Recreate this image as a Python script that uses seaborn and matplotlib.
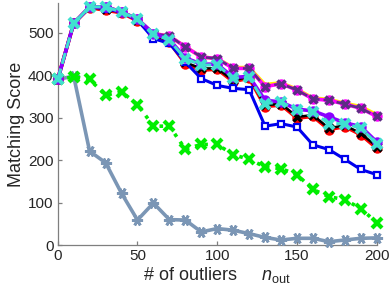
import numpy as np
import pandas as pd
import matplotlib
matplotlib.use("Agg")
import matplotlib.pyplot as plt
import seaborn as sns

n_out = list(range(0, 201, 10))

score_magenta = [390, 522, 561, 561, 549, 532, 498, 492, 467, 443, 439, 416, 416, 373, 380, 365, 344, 341, 332, 322, 303]
score_indigo = [390, 522, 561, 561, 549, 532, 498, 492, 467, 443, 439, 416, 416, 373, 380, 365, 344, 341, 332, 322, 303]
score_yellow = [390, 522, 561, 561, 549, 532, 498, 492, 467, 443, 439, 418, 418, 378, 382, 367, 346, 343, 334, 326, 307]
score_cyan = [390, 522, 561, 561, 549, 532, 498, 482, 439, 424, 424, 393, 395, 333, 337, 318, 314, 286, 286, 275, 239]
score_violet = [390, 522, 561, 561, 549, 532, 498, 484, 441, 426, 426, 395, 397, 341, 337, 320, 316, 302, 288, 279, 243]
score_black = [390, 522, 561, 557, 549, 530, 496, 480, 430, 416, 416, 388, 396, 329, 333, 302, 306, 275, 282, 263, 232]
score_red = [390, 522, 559, 553, 547, 528, 494, 478, 427, 412, 414, 385, 393, 326, 330, 299, 303, 272, 279, 260, 228]
score_blue = [390, 522, 560, 557, 548, 530, 486, 475, 431, 392, 376, 369, 366, 280, 286, 278, 236, 225, 202, 178, 166]
score_green = [390, 396, 390, 353, 361, 331, 280, 280, 226, 237, 237, 213, 202, 184, 180, 166, 131, 114, 107, 86, 53]
score_gray = [390, 398, 221, 194, 122, 59, 99, 60, 59, 31, 39, 35, 27, 18, 12, 16, 16, 8, 12, 16, 17]

sns.set_theme(style="white")
plt.rcParams['font.family'] = ['Liberation Sans', 'DejaVu Sans']
plt.rcParams['mathtext.fontset'] = 'custom'
plt.rcParams['mathtext.rm'] = 'Liberation Sans'
plt.rcParams['mathtext.it'] = 'Liberation Sans:italic'

fig = plt.figure(figsize=(3.9, 3.0), dpi=100)
ax = fig.add_axes([0.148, 0.183, 0.818, 0.807])

# drawing order: bottom first
series = [
    (score_gray, dict(color='#7b96b5', marker=(6, 2, 90), markersize=8, markeredgewidth=2, linewidth=2.6, linestyle='-')),
    (score_green, dict(color='#00ee00', marker='x', markersize=6.5, markeredgewidth=3, linewidth=2.6, linestyle=':')),
    (score_yellow, dict(color='#ffee00', marker='None', linewidth=2.6, linestyle='-')),
    (score_magenta, dict(color='#ff00ff', marker='o', markersize=7.5, markeredgewidth=0, linewidth=2.6, linestyle='-')),
    (score_indigo, dict(color='#5c2d84', marker='x', markersize=5.5, markeredgewidth=2.5, linewidth=1.8, linestyle='--')),
    (score_red, dict(color='#ff0000', marker='o', markersize=7.5, markeredgewidth=0, linewidth=2.6, linestyle='-')),
    (score_black, dict(color='#000000', marker='x', markersize=5.5, markeredgewidth=2.5, linewidth=1.8, linestyle='-')),
    (score_blue, dict(color='#0000ee', marker='s', markersize=5, markeredgewidth=1.6, markerfacecolor='white', linewidth=2.2, linestyle='-')),
    (score_violet, dict(color='#8a00ff', marker='o', markersize=7.5, markeredgewidth=0, linewidth=2.6, linestyle='-')),
    (score_cyan, dict(color='#40e0d0', marker='x', markersize=7, markeredgewidth=3, linewidth=2.2, linestyle='--')),
]

for i, (vals, st) in enumerate(series):
    df = pd.DataFrame({'n': n_out, 'score': vals})
    sns.lineplot(data=df, x='n', y='score', ax=ax)
    line = ax.lines[-1]
    line.set(clip_on=False, zorder=3 + i, markeredgecolor=st['color'], **st)
    if 'markerfacecolor' not in st:
        line.set_markerfacecolor(st['color'])

ax.set_xlim(0, 200)
ax.set_ylim(0, 570)
ax.set_xticks([0, 50, 100, 150, 200])
ax.set_yticks([0, 100, 200, 300, 400, 500])
sns.despine(ax=ax)
for s in ['left', 'bottom']:
    ax.spines[s].set_color('#7f7f7f')
    ax.spines[s].set_linewidth(0.9)
ax.tick_params(direction='in', length=3, width=0.9, color='#7f7f7f',
               labelsize=11, labelcolor='#262626', pad=3, left=True, bottom=True)
ax.set_xlabel(r'# of outliers     $n_{\mathrm{out}}$', fontsize=13, color='#262626', labelpad=1)
ax.set_ylabel('Matching Score', fontsize=13, color='#262626', labelpad=2)

fig.savefig('out.png', dpi=100)
